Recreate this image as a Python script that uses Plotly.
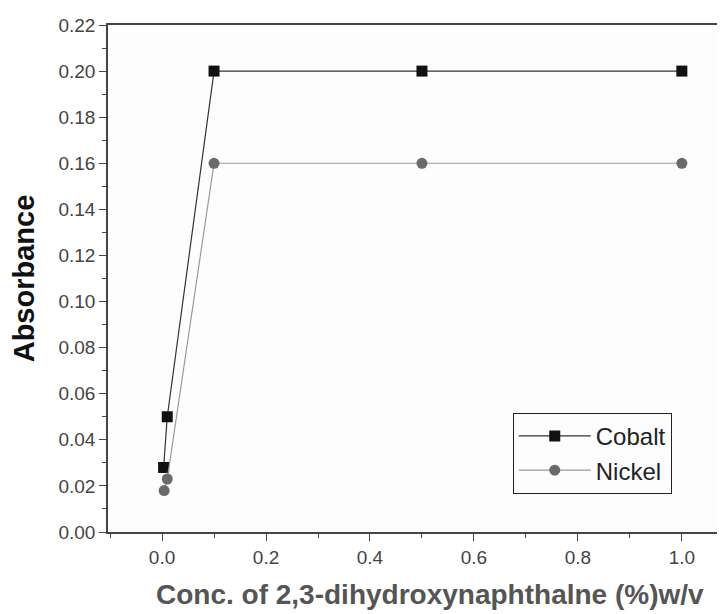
import plotly.graph_objects as go

conc_cobalt = [0.003, 0.01, 0.1, 0.5, 1.0]
abs_cobalt = [0.028, 0.050, 0.200, 0.200, 0.200]
conc_nickel = [0.004, 0.01, 0.1, 0.5, 1.0]
abs_nickel = [0.018, 0.023, 0.160, 0.160, 0.160]

y_ticks = [0.00, 0.02, 0.04, 0.06, 0.08, 0.10, 0.12, 0.14, 0.16, 0.18, 0.20, 0.22]
x_ticks = [0.0, 0.2, 0.4, 0.6, 0.8, 1.0]

font = "Arial, Liberation Sans, sans-serif"

fig = go.Figure()
fig.add_trace(go.Scatter(
    x=conc_cobalt, y=abs_cobalt, name="Cobalt", mode="lines+markers",
    line=dict(color="#333333", width=1.2),
    marker=dict(symbol="square", size=11, color="#111111"),
))
fig.add_trace(go.Scatter(
    x=conc_nickel, y=abs_nickel, name="Nickel", mode="lines+markers",
    line=dict(color="#9a9a9a", width=1.2),
    marker=dict(symbol="circle", size=11, color="#6a6a6a"),
))

# page body adds an 8px offset, so the figure is 8px smaller than the window
fig.update_layout(
    width=717, height=606,
    margin=dict(l=100, r=0, t=17, b=82),
    plot_bgcolor="#fdfdfd", paper_bgcolor="white",
    font=dict(family=font, color="#444444", size=19),
    legend=dict(
        x=0.656, y=0.235, xanchor="left", yanchor="top",
        bordercolor="#222222", borderwidth=1, bgcolor="rgba(0,0,0,0)",
        font=dict(size=24, color="#222222"), itemwidth=72, tracegroupgap=0,
    ),
    xaxis=dict(
        range=[-0.104, 1.083], automargin=False,
        tickvals=x_ticks, ticktext=[f"{v:.1f}" for v in x_ticks],
        tickfont=dict(size=19),
        ticks="outside", ticklen=7, tickwidth=1.2, tickcolor="#444444",
        minor=dict(dtick=0.1, ticks="outside", ticklen=4, tickcolor="#444444"),
        showline=True, linecolor="#444444", linewidth=1.5, mirror=True,
        showgrid=False, zeroline=False,
    ),
    yaxis=dict(
        range=[0, 0.22], automargin=False,
        tickvals=y_ticks, ticktext=[f"{v:.2f}" for v in y_ticks],
        tickfont=dict(size=19),
        ticks="outside", ticklen=7, tickwidth=1.2, tickcolor="#444444",
        minor=dict(dtick=0.01, ticks="outside", ticklen=4, tickcolor="#444444"),
        showline=True, linecolor="#444444", linewidth=1.5,
        showgrid=False, zeroline=False,
        title=dict(text="<b>Absorbance</b>", font=dict(size=29, color="#111111")),
    ),
)

fig.add_annotation(
    text="<b>Conc. of 2,3-dihydroxynaphthalne (%)w/v</b>",
    xref="paper", yref="paper", x=0.522, y=-0.124,
    xanchor="center", yanchor="middle", showarrow=False,
    font=dict(size=28, color="#555555"),
)

fig.write_html("out.html")
